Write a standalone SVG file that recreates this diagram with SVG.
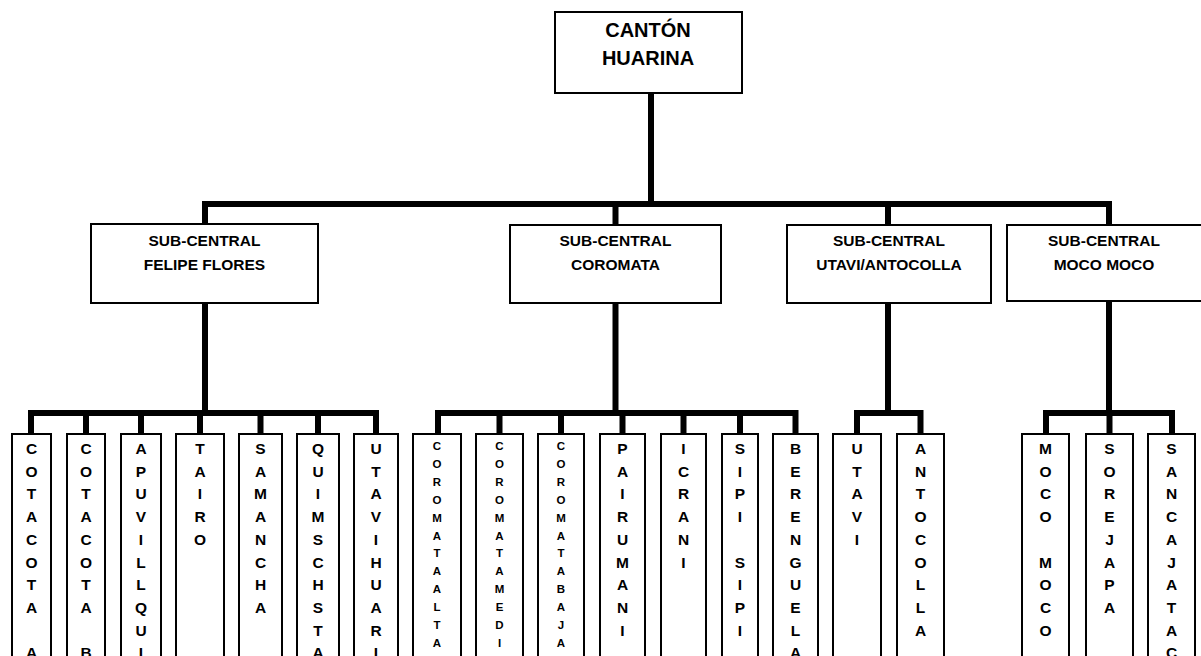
<svg xmlns="http://www.w3.org/2000/svg" width="1201" height="656" viewBox="0 0 1201 656">
<style>
.box{fill:#fff;stroke:#000;stroke-width:2}
.con{fill:none;stroke:#000;stroke-width:6;stroke-linejoin:miter}
.t{font-family:"Liberation Sans",Arial,sans-serif;font-weight:bold;fill:#000;text-anchor:middle}
.title{font-size:20px}
.sub{font-size:15.5px}
.leaf{font-size:15.5px}
.leafs{font-size:11.5px}
</style>
<rect width="1201" height="656" fill="#fff"/>
<g id="connectors">
<path class="con" d="M651,93 V204"/>
<path class="con" d="M205,224 V204 H1109 V225"/>
<path class="con" d="M615.5,204 V225"/>
<path class="con" d="M888,204 V225"/>
<path class="con" d="M205,303 V413"/>
<path class="con" d="M31,434 V413 H376 V434"/>
<path class="con" d="M86,413 V434 M141,413 V434 M200,413 V434 M260.5,413 V434 M318,413 V434"/>
<path class="con" d="M615.5,303 V413"/>
<path class="con" d="M438,434 V413 H795.5 V434"/>
<path class="con" d="M499.5,413 V434 M561,413 V434 M622.5,413 V434 M683.5,413 V434 M740,413 V434"/>
<path class="con" d="M888,303 V413"/>
<path class="con" d="M857,434 V413 H920.5 V434"/>
<path class="con" d="M1109,301 V413"/>
<path class="con" d="M1046,434 V413 H1172 V434"/>
<path class="con" d="M1109.5,413 V434"/>
</g>
<g id="canton-huarina">
<rect class="box" x="555" y="12" width="187" height="81"/>
<text class="t title" x="648" y="37">CANTÓN</text>
<text class="t title" x="648" y="65">HUARINA</text>
</g>
<g id="sc-felipe-flores">
<rect class="box" x="91" y="224" width="227" height="79"/>
<text class="t sub" x="204.5" y="245.5">SUB-CENTRAL</text>
<text class="t sub" x="204.5" y="269.5">FELIPE FLORES</text>
</g>
<g id="sc-coromata">
<rect class="box" x="510" y="225" width="211" height="78"/>
<text class="t sub" x="615.5" y="245.5">SUB-CENTRAL</text>
<text class="t sub" x="615.5" y="269.5">COROMATA</text>
</g>
<g id="sc-utavi-antocolla">
<rect class="box" x="787" y="225" width="204" height="78"/>
<text class="t sub" x="889" y="245.5">SUB-CENTRAL</text>
<text class="t sub" x="889" y="269.5">UTAVI/ANTOCOLLA</text>
</g>
<g id="sc-moco-moco">
<rect class="box" x="1007" y="225" width="200" height="76"/>
<text class="t sub" x="1104" y="245.5">SUB-CENTRAL</text>
<text class="t sub" x="1104" y="269.5">MOCO MOCO</text>
</g>
<g id="leaf-cotacota-a">
<rect class="box" x="12" y="434" width="39" height="230"/>
<text class="t leaf" y="454"><tspan x="31.5">C</tspan><tspan x="31.5" dy="22.7">O</tspan><tspan x="31.5" dy="22.7">T</tspan><tspan x="31.5" dy="22.7">A</tspan><tspan x="31.5" dy="22.7">C</tspan><tspan x="31.5" dy="22.7">O</tspan><tspan x="31.5" dy="22.7">T</tspan><tspan x="31.5" dy="22.7">A</tspan><tspan x="31.5" dy="45.4">A</tspan></text>
</g>
<g id="leaf-cotacota-b">
<rect class="box" x="67" y="434" width="38" height="230"/>
<text class="t leaf" y="454"><tspan x="86">C</tspan><tspan x="86" dy="22.7">O</tspan><tspan x="86" dy="22.7">T</tspan><tspan x="86" dy="22.7">A</tspan><tspan x="86" dy="22.7">C</tspan><tspan x="86" dy="22.7">O</tspan><tspan x="86" dy="22.7">T</tspan><tspan x="86" dy="22.7">A</tspan><tspan x="86" dy="45.4">B</tspan></text>
</g>
<g id="leaf-apuvillqui">
<rect class="box" x="121" y="434" width="40" height="230"/>
<text class="t leaf" y="454"><tspan x="141">A</tspan><tspan x="141" dy="22.7">P</tspan><tspan x="141" dy="22.7">U</tspan><tspan x="141" dy="22.7">V</tspan><tspan x="141" dy="22.7">I</tspan><tspan x="141" dy="22.7">L</tspan><tspan x="141" dy="22.7">L</tspan><tspan x="141" dy="22.7">Q</tspan><tspan x="141" dy="22.7">U</tspan><tspan x="141" dy="22.7">I</tspan></text>
</g>
<g id="leaf-tairo">
<rect class="box" x="176" y="434" width="48" height="230"/>
<text class="t leaf" y="454"><tspan x="200">T</tspan><tspan x="200" dy="22.7">A</tspan><tspan x="200" dy="22.7">I</tspan><tspan x="200" dy="22.7">R</tspan><tspan x="200" dy="22.7">O</tspan></text>
</g>
<g id="leaf-samancha">
<rect class="box" x="239" y="434" width="43" height="230"/>
<text class="t leaf" y="454"><tspan x="260.5">S</tspan><tspan x="260.5" dy="22.7">A</tspan><tspan x="260.5" dy="22.7">M</tspan><tspan x="260.5" dy="22.7">A</tspan><tspan x="260.5" dy="22.7">N</tspan><tspan x="260.5" dy="22.7">C</tspan><tspan x="260.5" dy="22.7">H</tspan><tspan x="260.5" dy="22.7">A</tspan></text>
</g>
<g id="leaf-quimschsta">
<rect class="box" x="297" y="434" width="42" height="230"/>
<text class="t leaf" y="454"><tspan x="318">Q</tspan><tspan x="318" dy="22.7">U</tspan><tspan x="318" dy="22.7">I</tspan><tspan x="318" dy="22.7">M</tspan><tspan x="318" dy="22.7">S</tspan><tspan x="318" dy="22.7">C</tspan><tspan x="318" dy="22.7">H</tspan><tspan x="318" dy="22.7">S</tspan><tspan x="318" dy="22.7">T</tspan><tspan x="318" dy="22.7">A</tspan></text>
</g>
<g id="leaf-utavihuari">
<rect class="box" x="354" y="434" width="44" height="230"/>
<text class="t leaf" y="454"><tspan x="376">U</tspan><tspan x="376" dy="22.7">T</tspan><tspan x="376" dy="22.7">A</tspan><tspan x="376" dy="22.7">V</tspan><tspan x="376" dy="22.7">I</tspan><tspan x="376" dy="22.7">H</tspan><tspan x="376" dy="22.7">U</tspan><tspan x="376" dy="22.7">A</tspan><tspan x="376" dy="22.7">R</tspan><tspan x="376" dy="22.7">I</tspan></text>
</g>
<g id="leaf-coromata-alta">
<rect class="box" x="413" y="434" width="48" height="230"/>
<text class="t leafs" y="450"><tspan x="437">C</tspan><tspan x="437" dy="17.9">O</tspan><tspan x="437" dy="17.9">R</tspan><tspan x="437" dy="17.9">O</tspan><tspan x="437" dy="17.9">M</tspan><tspan x="437" dy="17.9">A</tspan><tspan x="437" dy="17.9">T</tspan><tspan x="437" dy="17.9">A</tspan><tspan x="437" dy="17.9">A</tspan><tspan x="437" dy="17.9">L</tspan><tspan x="437" dy="17.9">T</tspan><tspan x="437" dy="17.9">A</tspan></text>
</g>
<g id="leaf-coromata-media">
<rect class="box" x="476" y="434" width="47" height="230"/>
<text class="t leafs" y="450"><tspan x="499.5">C</tspan><tspan x="499.5" dy="17.9">O</tspan><tspan x="499.5" dy="17.9">R</tspan><tspan x="499.5" dy="17.9">O</tspan><tspan x="499.5" dy="17.9">M</tspan><tspan x="499.5" dy="17.9">A</tspan><tspan x="499.5" dy="17.9">T</tspan><tspan x="499.5" dy="17.9">A</tspan><tspan x="499.5" dy="17.9">M</tspan><tspan x="499.5" dy="17.9">E</tspan><tspan x="499.5" dy="17.9">D</tspan><tspan x="499.5" dy="17.9">I</tspan><tspan x="499.5" dy="17.9">A</tspan></text>
</g>
<g id="leaf-coromata-baja">
<rect class="box" x="538" y="434" width="46" height="230"/>
<text class="t leafs" y="450"><tspan x="561">C</tspan><tspan x="561" dy="17.9">O</tspan><tspan x="561" dy="17.9">R</tspan><tspan x="561" dy="17.9">O</tspan><tspan x="561" dy="17.9">M</tspan><tspan x="561" dy="17.9">A</tspan><tspan x="561" dy="17.9">T</tspan><tspan x="561" dy="17.9">A</tspan><tspan x="561" dy="17.9">B</tspan><tspan x="561" dy="17.9">A</tspan><tspan x="561" dy="17.9">J</tspan><tspan x="561" dy="17.9">A</tspan></text>
</g>
<g id="leaf-pairumani">
<rect class="box" x="600" y="434" width="45" height="230"/>
<text class="t leaf" y="454"><tspan x="622.5">P</tspan><tspan x="622.5" dy="22.7">A</tspan><tspan x="622.5" dy="22.7">I</tspan><tspan x="622.5" dy="22.7">R</tspan><tspan x="622.5" dy="22.7">U</tspan><tspan x="622.5" dy="22.7">M</tspan><tspan x="622.5" dy="22.7">A</tspan><tspan x="622.5" dy="22.7">N</tspan><tspan x="622.5" dy="22.7">I</tspan></text>
</g>
<g id="leaf-icrani">
<rect class="box" x="661" y="434" width="45" height="230"/>
<text class="t leaf" y="454"><tspan x="683.5">I</tspan><tspan x="683.5" dy="22.7">C</tspan><tspan x="683.5" dy="22.7">R</tspan><tspan x="683.5" dy="22.7">A</tspan><tspan x="683.5" dy="22.7">N</tspan><tspan x="683.5" dy="22.7">I</tspan></text>
</g>
<g id="leaf-sipi-sipi">
<rect class="box" x="722" y="434" width="36" height="230"/>
<text class="t leaf" y="454"><tspan x="740">S</tspan><tspan x="740" dy="22.7">I</tspan><tspan x="740" dy="22.7">P</tspan><tspan x="740" dy="22.7">I</tspan><tspan x="740" dy="45.4">S</tspan><tspan x="740" dy="22.7">I</tspan><tspan x="740" dy="22.7">P</tspan><tspan x="740" dy="22.7">I</tspan></text>
</g>
<g id="leaf-berenguela">
<rect class="box" x="773" y="434" width="45" height="230"/>
<text class="t leaf" y="454"><tspan x="795.5">B</tspan><tspan x="795.5" dy="22.7">E</tspan><tspan x="795.5" dy="22.7">R</tspan><tspan x="795.5" dy="22.7">E</tspan><tspan x="795.5" dy="22.7">N</tspan><tspan x="795.5" dy="22.7">G</tspan><tspan x="795.5" dy="22.7">U</tspan><tspan x="795.5" dy="22.7">E</tspan><tspan x="795.5" dy="22.7">L</tspan><tspan x="795.5" dy="22.7">A</tspan></text>
</g>
<g id="leaf-utavi">
<rect class="box" x="833" y="434" width="48" height="230"/>
<text class="t leaf" y="454"><tspan x="857">U</tspan><tspan x="857" dy="22.7">T</tspan><tspan x="857" dy="22.7">A</tspan><tspan x="857" dy="22.7">V</tspan><tspan x="857" dy="22.7">I</tspan></text>
</g>
<g id="leaf-antocolla">
<rect class="box" x="897" y="434" width="47" height="230"/>
<text class="t leaf" y="454"><tspan x="920.5">A</tspan><tspan x="920.5" dy="22.7">N</tspan><tspan x="920.5" dy="22.7">T</tspan><tspan x="920.5" dy="22.7">O</tspan><tspan x="920.5" dy="22.7">C</tspan><tspan x="920.5" dy="22.7">O</tspan><tspan x="920.5" dy="22.7">L</tspan><tspan x="920.5" dy="22.7">L</tspan><tspan x="920.5" dy="22.7">A</tspan></text>
</g>
<g id="leaf-moco-moco">
<rect class="box" x="1022" y="434" width="47" height="230"/>
<text class="t leaf" y="454"><tspan x="1045.5">M</tspan><tspan x="1045.5" dy="22.7">O</tspan><tspan x="1045.5" dy="22.7">C</tspan><tspan x="1045.5" dy="22.7">O</tspan><tspan x="1045.5" dy="45.4">M</tspan><tspan x="1045.5" dy="22.7">O</tspan><tspan x="1045.5" dy="22.7">C</tspan><tspan x="1045.5" dy="22.7">O</tspan></text>
</g>
<g id="leaf-sorejapa">
<rect class="box" x="1086" y="434" width="47" height="230"/>
<text class="t leaf" y="454"><tspan x="1109.5">S</tspan><tspan x="1109.5" dy="22.7">O</tspan><tspan x="1109.5" dy="22.7">R</tspan><tspan x="1109.5" dy="22.7">E</tspan><tspan x="1109.5" dy="22.7">J</tspan><tspan x="1109.5" dy="22.7">A</tspan><tspan x="1109.5" dy="22.7">P</tspan><tspan x="1109.5" dy="22.7">A</tspan></text>
</g>
<g id="leaf-sancajatac">
<rect class="box" x="1148" y="434" width="47" height="230"/>
<text class="t leaf" y="454"><tspan x="1171.5">S</tspan><tspan x="1171.5" dy="22.7">A</tspan><tspan x="1171.5" dy="22.7">N</tspan><tspan x="1171.5" dy="22.7">C</tspan><tspan x="1171.5" dy="22.7">A</tspan><tspan x="1171.5" dy="22.7">J</tspan><tspan x="1171.5" dy="22.7">A</tspan><tspan x="1171.5" dy="22.7">T</tspan><tspan x="1171.5" dy="22.7">A</tspan><tspan x="1171.5" dy="22.7">C</tspan></text>
</g>
</svg>
